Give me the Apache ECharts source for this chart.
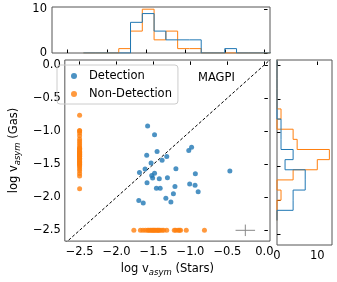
<!DOCTYPE html>
<html>
<head>
<meta charset="utf-8">
<script src="https://cdn.jsdelivr.net/npm/echarts@6/dist/echarts.min.js"></script>
<style>html,body{margin:0;padding:0;background:#fff}#c{width:337px;height:282px}</style>
</head>
<body>
<div id="c"></div>
<script>
// Detections: stellar (x) and gas (y) log v_asym
const detStarX = [-1.580,-1.486,-1.592,-1.452,-1.533,-1.384,-1.321,-1.614,-1.690,-1.486,-1.524,-1.512,-1.588,-1.422,-1.312,-1.197,-1.023,-0.985,-0.934,-1.011,-0.938,-0.896,-1.210,-1.461,-1.410,-1.231,-1.333,-1.265,-1.699,-1.639,-0.467];
const detGasY  = [-0.922,-1.055,-1.366,-1.307,-1.484,-1.440,-1.386,-1.573,-1.627,-1.637,-1.672,-1.711,-1.780,-1.721,-1.706,-1.568,-1.292,-1.243,-1.647,-1.800,-1.819,-1.918,-1.839,-1.864,-1.864,-1.948,-2.017,-2.071,-2.051,-2.086,-1.603];
// Non-detections placed at the limit value
const nonDetValue = -2.5;
const nonDetStarX = [-1.766,-1.677,-1.643,-1.610,-1.580,-1.565,-1.546,-1.530,-1.512,-1.500,-1.486,-1.470,-1.452,-1.440,-1.427,-1.412,-1.385,-1.363,-1.321,-1.219,-1.200,-1.168,-1.150,-1.134,-1.057,-0.811];
const nonDetGasY = [-0.76,-0.99,-1.00,-1.03,-1.07,-1.12,-1.15,-1.18,-1.21,-1.24,-1.26,-1.27,-1.28,-1.30,-1.31,-1.32,-1.33,-1.34,-1.35,-1.36,-1.37,-1.38,-1.39,-1.41,-1.42,-1.43,-1.45,-1.46,-1.47,-1.49,-1.50,-1.52,-1.54,-1.57,-1.60,-1.64,-1.68,-1.87];
// Histogram bins
const binStart = -2.3, binWidth = 0.15, binCount = 16;
// Typical error bar
const errCenter = [-0.258, -2.5];
const errHalf = [0.132, 0.087];
// 1:1 line
const oneToOne = [-2.8, 0.2];
// Ticks
const mainTicks = [-2.5,-2.0,-1.5,-1.0,-0.5,0.0];
const histTicks = [0, 10];

const FONT = 'DejaVu Sans';
const BLUE = '#1f77b4', ORANGE = '#ff7f0e';

function histogram(vals){
  const c = new Array(binCount).fill(0);
  vals.forEach(v => {
    const i = Math.floor((v - binStart) / binWidth);
    if (i >= 0 && i < binCount) c[i]++;
  });
  return c;
}
function stepPts(counts, swap){
  const pts = [];
  const e = i => binStart + i * binWidth;
  const push = (x, y) => pts.push(swap ? [y, x] : [x, y]);
  push(e(0), 0);
  counts.forEach((c, i) => { push(e(i), c); push(e(i+1), c); });
  push(e(binCount), 0);
  return pts;
}
const fmt = v => (v < 0 ? '\u2212' : '') + Math.abs(v).toFixed(1);

const rich = {
  n: {fontSize: 11.5, fontFamily: FONT, color: '#000', lineHeight: 16, verticalAlign: 'middle'},
  s: {fontSize: 8.5, fontFamily: FONT, fontStyle: 'italic', color: '#000', lineHeight: 16, verticalAlign: 'bottom'}
};
const lbl = {fontSize: 11.5, fontFamily: FONT, color: '#000', hideOverlap: false, showMinLabel: true, showMaxLabel: true};
const gridBox = {show: true, borderColor: '#555', borderWidth: 1, backgroundColor: 'transparent'};
const tick = vals => ({show: true, inside: true, length: 3.5, customValues: vals, lineStyle: {color: '#000', width: 1}});

const chart = echarts.init(document.getElementById('c'), null, {renderer: 'canvas'});
chart.setOption({
  animation: false,
  backgroundColor: '#fff',
  grid: [
    Object.assign({left: 52, top: 60, width: 218, height: 185}, gridBox),
    Object.assign({left: 52, top: 7, width: 218, height: 46}, gridBox),
    Object.assign({left: 277, top: 60, width: 55, height: 185}, gridBox)
  ],
  xAxis: [
    {gridIndex: 0, type: 'value', min: -2.70, max: 0.076, axisLine: {show: false}, splitLine: {show: false},
     axisTick: tick(mainTicks), axisLabel: Object.assign({customValues: mainTicks, formatter: fmt, margin: 5}, lbl),
     name: '{n|log v}{s|asym}{n| (Stars)}', nameLocation: 'middle', nameGap: 16, nameTextStyle: {rich: rich}},
    {gridIndex: 1, type: 'value', min: -2.70, max: 0.076, axisLine: {show: false}, splitLine: {show: false},
     axisTick: tick(mainTicks), axisLabel: {show: false}},
    {gridIndex: 2, type: 'value', min: 0, max: 13.65, axisLine: {show: false}, splitLine: {show: false},
     axisTick: tick(histTicks), axisLabel: Object.assign({customValues: histTicks, margin: 5}, lbl)}
  ],
  yAxis: [
    {gridIndex: 0, type: 'value', min: -2.663, max: 0.074, axisLine: {show: false}, splitLine: {show: false},
     axisTick: tick(mainTicks), axisLabel: Object.assign({customValues: mainTicks, formatter: fmt, margin: 4}, lbl),
     name: '{n|log v}{s|asym}{n| (Gas)}', nameLocation: 'middle', nameGap: 35, nameRotate: 90, nameTextStyle: {rich: rich}},
    {gridIndex: 1, type: 'value', min: 0, max: 10.5, axisLine: {show: false}, splitLine: {show: false},
     axisTick: tick(histTicks), axisLabel: Object.assign({customValues: histTicks, margin: 5}, lbl)},
    {gridIndex: 2, type: 'value', min: -2.663, max: 0.074, axisLine: {show: false}, splitLine: {show: false},
     axisTick: tick(mainTicks), axisLabel: {show: false}}
  ],
  legend: {
    data: ['Detection', 'Non-Detection'], left: 57, top: 65, orient: 'vertical',
    icon: 'circle', itemWidth: 20, itemHeight: 6, itemGap: 6, padding: [5, 6, 4, 14],
    borderColor: '#ccc', borderWidth: 1, borderRadius: 3,
    textStyle: {fontSize: 11.5, fontFamily: FONT, color: '#000'}
  },
  graphic: [
    {type: 'text', left: 198, top: 72, style: {text: 'MAGPI', font: '11.5px "DejaVu Sans"', fill: '#000'}}
  ],
  series: [
    {type: 'line', xAxisIndex: 0, yAxisIndex: 0, data: [[oneToOne[0], oneToOne[0]], [oneToOne[1], oneToOne[1]]],
     showSymbol: false, silent: true, lineStyle: {color: '#000', width: 1, type: [3, 2]}, z: 1},
    {type: 'line', xAxisIndex: 0, yAxisIndex: 0, data: [[errCenter[0]-errHalf[0], errCenter[1]], [errCenter[0]+errHalf[0], errCenter[1]]],
     showSymbol: false, silent: true, lineStyle: {color: '#888', width: 1}},
    {type: 'line', xAxisIndex: 0, yAxisIndex: 0, data: [[errCenter[0], errCenter[1]-errHalf[1]], [errCenter[0], errCenter[1]+errHalf[1]]],
     showSymbol: false, silent: true, lineStyle: {color: '#888', width: 1}},
    {name: 'Detection', type: 'scatter', xAxisIndex: 0, yAxisIndex: 0, symbolSize: 5,
     itemStyle: {color: BLUE}, data: detStarX.map((x, i) => [x, detGasY[i]]), z: 3},
    {name: 'Non-Detection', type: 'scatter', xAxisIndex: 0, yAxisIndex: 0, symbolSize: 5,
     itemStyle: {color: ORANGE},
     data: nonDetStarX.map(x => [x, nonDetValue]).concat(nonDetGasY.map(y => [nonDetValue, y])), z: 3},
    {type: 'line', xAxisIndex: 1, yAxisIndex: 1, data: stepPts(histogram(nonDetStarX), false),
     showSymbol: false, silent: true, lineStyle: {color: ORANGE, width: 1}},
    {type: 'line', xAxisIndex: 1, yAxisIndex: 1, data: stepPts(histogram(detStarX), false),
     showSymbol: false, silent: true, lineStyle: {color: BLUE, width: 1}},
    {type: 'line', xAxisIndex: 2, yAxisIndex: 2, data: stepPts(histogram(nonDetGasY), true),
     showSymbol: false, silent: true, lineStyle: {color: ORANGE, width: 1}},
    {type: 'line', xAxisIndex: 2, yAxisIndex: 2, data: stepPts(histogram(detGasY), true),
     showSymbol: false, silent: true, lineStyle: {color: BLUE, width: 1}}
  ]
});
</script>
</body>
</html>
